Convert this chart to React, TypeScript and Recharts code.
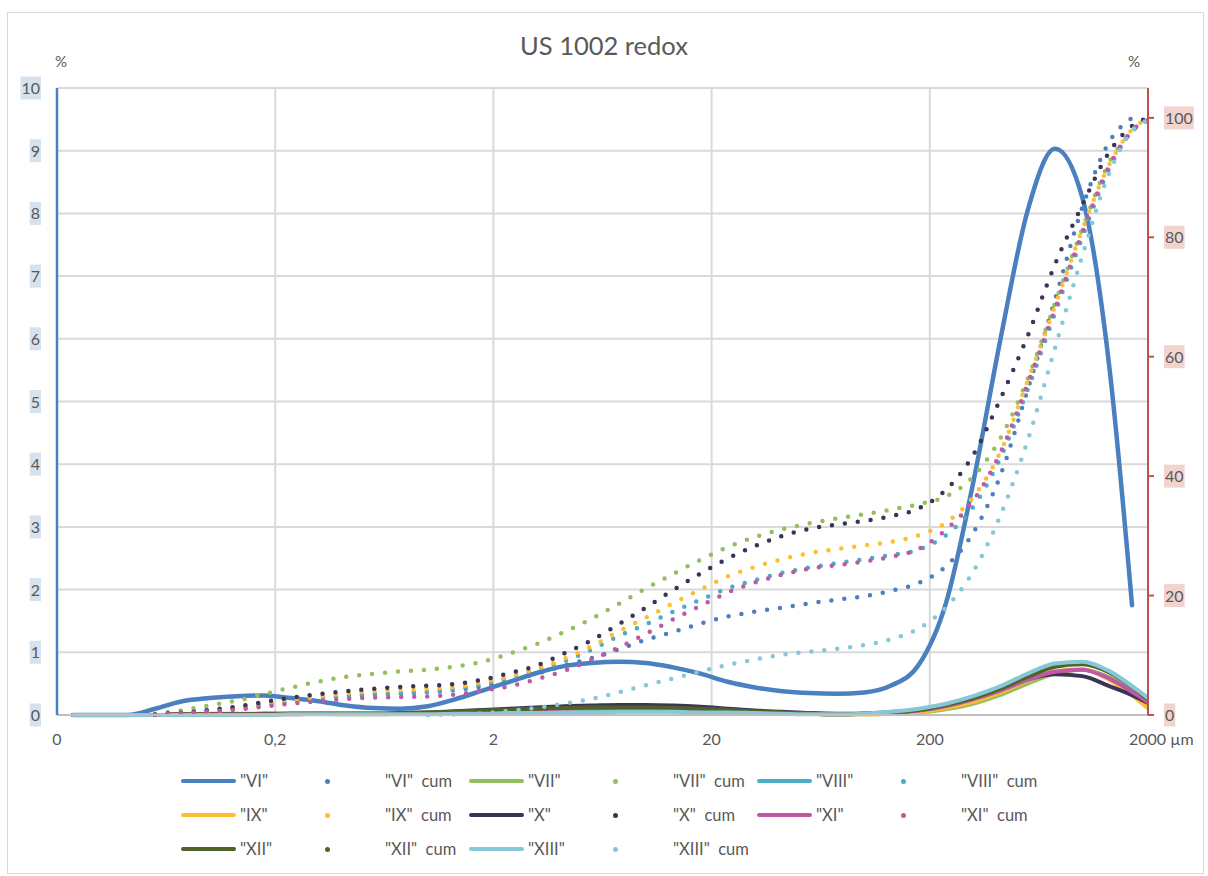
import React from "react";
import { ComposedChart, Line, XAxis, YAxis, CartesianGrid } from "recharts";

const FONT = "Lato, 'Open Sans', sans-serif";
const GREY = "#595959";

// particle size classes, µm
const sizes = [
  0.0237, 0.0316, 0.0422, 0.0562, 0.075, 0.1, 0.133, 0.178, 0.237, 0.316, 0.422, 0.562, 0.75, 1, 1.33, 1.78, 2.37,
  3.16, 4.22, 5.62, 7.5, 10, 13.3, 17.8, 23.7, 31.6, 42.2, 56.2, 75, 100, 133, 178, 237, 316, 422, 562, 750, 1000,
  1330, 1780, 2000,
];
// "VI" stops earlier
const viSizes = [
  0.0237, 0.0316, 0.0422, 0.0562, 0.075, 0.1, 0.133, 0.178, 0.237, 0.316, 0.422, 0.562, 0.75, 1, 1.33, 1.78, 2.37,
  3.16, 4.22, 5.62, 7.5, 10, 13.3, 17.8, 23.7, 31.6, 42.2, 56.2, 75, 100, 133, 178, 237, 316, 422, 562, 750, 1000,
  1330, 1690,
];

const xTicks = [0.02, 0.2, 2, 20, 200, 2000];
const xTickLabels = ["0", "0,2", "2", "20", "200", "2000 µm"];
const leftTicks = [0, 1, 2, 3, 4, 5, 6, 7, 8, 9, 10];
const rightTicks = [0, 20, 40, 60, 80, 100];

// frequency (%)
const vi = [0, 0, 0, 0.1, 0.22, 0.27, 0.3, 0.31, 0.27, 0.22, 0.15, 0.11, 0.1, 0.14, 0.25, 0.39, 0.53, 0.67, 0.78, 0.83, 0.85, 0.83, 0.76, 0.66, 0.53, 0.44, 0.38, 0.35, 0.34, 0.36, 0.47, 0.8, 1.78, 3.7, 6.0, 8.05, 9.03, 8.25, 5.55, 1.75];
const vii = [0, 0, 0, 0, 0.01, 0.02, 0.02, 0.02, 0.02, 0.02, 0.01, 0.01, 0.02, 0.03, 0.04, 0.06, 0.07, 0.09, 0.1, 0.1, 0.11, 0.1, 0.1, 0.08, 0.07, 0.05, 0.03, 0.02, 0.01, 0.01, 0.02, 0.04, 0.09, 0.18, 0.32, 0.5, 0.66, 0.72, 0.6, 0.34, 0.22];
const viii = [0, 0, 0, 0, 0.01, 0.01, 0.01, 0.01, 0.02, 0.02, 0.02, 0.02, 0.02, 0.03, 0.04, 0.06, 0.07, 0.08, 0.09, 0.1, 0.1, 0.1, 0.09, 0.08, 0.06, 0.05, 0.03, 0.02, 0.01, 0.02, 0.05, 0.09, 0.17, 0.29, 0.45, 0.64, 0.8, 0.84, 0.69, 0.4, 0.26];
const ix = [0, 0, 0, 0, 0.01, 0.01, 0.01, 0.02, 0.02, 0.02, 0.02, 0.02, 0.02, 0.03, 0.05, 0.06, 0.08, 0.09, 0.1, 0.11, 0.11, 0.11, 0.1, 0.09, 0.07, 0.05, 0.03, 0.02, 0.01, 0.01, 0.02, 0.05, 0.11, 0.21, 0.36, 0.55, 0.7, 0.73, 0.56, 0.25, 0.11];
const x10 = [0, 0, 0, 0, 0.01, 0.01, 0.01, 0.02, 0.02, 0.02, 0.02, 0.02, 0.03, 0.04, 0.06, 0.08, 0.1, 0.12, 0.14, 0.15, 0.16, 0.16, 0.15, 0.13, 0.1, 0.07, 0.05, 0.03, 0.02, 0.02, 0.04, 0.08, 0.16, 0.28, 0.42, 0.57, 0.65, 0.62, 0.46, 0.28, 0.19];
const xi = [0, 0, 0, 0, 0.01, 0.01, 0.01, 0.01, 0.01, 0.02, 0.02, 0.02, 0.02, 0.03, 0.05, 0.06, 0.08, 0.09, 0.1, 0.11, 0.11, 0.11, 0.1, 0.09, 0.07, 0.05, 0.03, 0.02, 0.01, 0.02, 0.03, 0.07, 0.14, 0.25, 0.39, 0.56, 0.69, 0.72, 0.58, 0.32, 0.2];
const xii = [0, 0, 0, 0, 0.01, 0.01, 0.01, 0.01, 0.02, 0.02, 0.02, 0.02, 0.03, 0.04, 0.05, 0.07, 0.08, 0.1, 0.11, 0.12, 0.12, 0.12, 0.11, 0.1, 0.08, 0.06, 0.04, 0.02, 0.01, 0.02, 0.04, 0.08, 0.16, 0.27, 0.42, 0.61, 0.77, 0.81, 0.68, 0.39, 0.25];
const xiii = [0, 0, 0, 0, 0, 0, 0, 0, 0.01, 0.01, 0.01, 0.01, 0.01, 0.01, 0.02, 0.02, 0.03, 0.03, 0.04, 0.04, 0.05, 0.05, 0.05, 0.04, 0.04, 0.03, 0.02, 0.01, 0.01, 0.02, 0.05, 0.1, 0.18, 0.3, 0.46, 0.66, 0.82, 0.85, 0.7, 0.4, 0.27];

// cumulative (%)
const viCum = [null, null, null, 0.1, 0.4, 0.9, 1.3, 1.9, 2.4, 2.9, 3.2, 3.4, 3.6, 3.8, 4.2, 4.8, 5.7, 6.9, 8.3, 9.5, 11.0, 12.6, 13.9, 15.3, 16.5, 17.3, 18.0, 18.7, 19.3, 19.9, 20.8, 22.1, 24.9, 30.5, 40.2, 54.5, 69.6, 85.0, 96.0, 100];
const viiCum = [null, null, null, 0.2, 0.8, 1.6, 2.4, 3.5, 4.6, 5.6, 6.4, 6.9, 7.3, 7.6, 8.1, 8.9, 10.3, 11.9, 13.9, 16.1, 18.6, 21.2, 23.6, 26.0, 28.1, 29.8, 31.1, 32.1, 32.9, 33.6, 34.4, 35.3, 36.6, 39.9, 46.4, 56.3, 69.0, 81.4, 92.6, 98.4, 99.6];
const viiiCum = [null, null, null, 0.1, 0.3, 0.7, 1.1, 1.7, 2.2, 2.8, 3.2, 3.5, 3.7, 3.9, 4.4, 5.2, 6.3, 7.6, 9.0, 10.9, 13.2, 15.2, 17.3, 19.3, 21.2, 22.6, 23.8, 24.7, 25.4, 26.1, 26.8, 27.7, 30.1, 34.8, 43.1, 54.5, 67.3, 80.0, 91.5, 98.6, 99.6];
const ixCum = [null, null, null, 0.1, 0.3, 0.6, 1.1, 1.8, 2.5, 3.1, 3.6, 4.0, 4.2, 4.4, 4.7, 5.5, 6.5, 7.8, 9.4, 11.5, 14.0, 16.3, 18.7, 21.0, 23.2, 24.8, 26.1, 27.1, 27.8, 28.4, 29.0, 30.1, 32.2, 36.5, 44.1, 56.0, 68.5, 81.3, 92.2, 98.8, 99.8];
const xCum = [null, null, null, 0.1, 0.4, 0.8, 1.4, 2.2, 2.9, 3.5, 4.0, 4.4, 4.7, 4.9, 5.2, 5.9, 7.0, 8.3, 10.3, 12.5, 15.2, 18.0, 20.9, 23.7, 26.2, 28.3, 30.0, 31.2, 31.9, 32.5, 33.3, 34.6, 37.7, 43.5, 53.0, 63.5, 75.5, 85.4, 94.3, 99.2, 100];
const xiCum = [null, null, null, 0.1, 0.3, 0.6, 0.9, 1.4, 1.9, 2.3, 2.7, 2.9, 3.0, 3.1, 3.4, 4.1, 4.8, 6.0, 7.4, 9.2, 11.3, 13.6, 16.0, 18.3, 20.5, 22.2, 23.5, 24.5, 25.1, 25.7, 26.5, 27.8, 31.0, 35.9, 44.0, 55.5, 68.0, 80.8, 92.0, 98.6, 99.6];
const xiiCum: (number | null)[] = [];
const xiiiCum = [null, null, null, null, null, null, null, null, null, null, null, null, null, 0, 0.1, 0.3, 0.7, 1.2, 1.9, 2.7, 3.8, 5.0, 6.1, 7.3, 8.4, 9.3, 10.1, 10.6, 11.1, 11.7, 12.7, 14.5, 18.0, 24.0, 33.5, 46.0, 61.5, 76.9, 90.8, 98.7, 99.6];

type Series = { name: string; color: string; xs: number[]; freq: (number | null)[]; cum: (number | null)[] };

const series: Series[] = [
  { name: "\"VI\"", color: "#4a7fc0", xs: viSizes, freq: vi, cum: viCum },
  { name: "\"VII\"", color: "#93c05c", xs: sizes, freq: vii, cum: viiCum },
  { name: "\"VIII\"", color: "#4bacc6", xs: sizes, freq: viii, cum: viiiCum },
  { name: "\"IX\"", color: "#fdbf2f", xs: sizes, freq: ix, cum: ixCum },
  { name: "\"X\"", color: "#3b3458", xs: sizes, freq: x10, cum: xCum },
  { name: "\"XI\"", color: "#c058a6", xs: sizes, freq: xi, cum: xiCum },
  { name: "\"XII\"", color: "#4f6228", xs: sizes, freq: xii, cum: xiiCum },
  { name: "\"XIII\"", color: "#86c8d8", xs: sizes, freq: xiii, cum: xiiiCum },
];

function toPoints(xs: number[], ys: (number | null)[]) {
  return xs.map((x, i) => ({ x, y: ys[i] })).filter((p) => p.y !== null && p.y !== undefined);
}

function LeftTick({ y, payload }: any) {
  const label = String(payload.value);
  const w = label.length * 9.3 + 2;
  return (
    <g>
      <rect x={41 - w} y={y - 11.5} width={w} height={23} fill="#d7e2ef" />
      <text x={40} y={y + 6} textAnchor="end" fontSize={16} fill={GREY} fontFamily={FONT}>{label}</text>
    </g>
  );
}

function RightTick({ y, payload }: any) {
  const label = String(payload.value);
  const w = label.length * 9.3 + 2;
  return (
    <g>
      <rect x={1164} y={y - 11.5} width={w} height={23} fill="#f2d4cf" />
      <text x={1165} y={y + 6} textAnchor="start" fontSize={16} fill={GREY} fontFamily={FONT}>{label}</text>
    </g>
  );
}

function BottomTick({ x, payload }: any) {
  const i = xTicks.indexOf(payload.value);
  const label = xTickLabels[i] ?? "";
  const last = i === xTicks.length - 1;
  return (
    <text x={last ? x - 19 : x} y={745} textAnchor={last ? "start" : "middle"} fontSize={16} fill={GREY} fontFamily={FONT}>
      {label}
    </text>
  );
}

function LegendBlock() {
  const rows = [series.slice(0, 3), series.slice(3, 6), series.slice(6, 8)];
  const rowY = [781, 815, 849];
  const text: React.CSSProperties = { position: "absolute", fontSize: 16.5, color: GREY, fontFamily: FONT, whiteSpace: "pre", lineHeight: "20px" };
  return (
    <>
      {rows.map((row, r) =>
        row.map((s, c) => {
          const x0 = 181 + c * 288;
          const y = rowY[r];
          return (
            <React.Fragment key={s.name}>
              <div style={{ position: "absolute", left: x0, top: y - 2.25, width: 55, height: 4.5, borderRadius: 2.25, background: s.color }} />
              <div style={{ ...text, left: x0 + 59, top: y - 10 }}>{s.name}</div>
              <div style={{ position: "absolute", left: x0 + 144, top: y - 2.5, width: 5, height: 5, borderRadius: 2.5, background: s.color }} />
              <div style={{ ...text, left: x0 + 204, top: y - 10 }}>{s.name + "  cum"}</div>
            </React.Fragment>
          );
        })
      )}
    </>
  );
}

export default function App() {
  return (
    <div style={{ position: "absolute", left: 0, top: 0, width: 1208, height: 876, background: "#fff", overflow: "hidden" }}>
      <div style={{ position: "absolute", left: 7, top: 12, width: 1195, height: 860, border: "1px solid #d9d9d9" }} />
      <div style={{ position: "absolute", left: 0, top: 0 }}>
        <ComposedChart width={1208} height={876} margin={{ top: 88, right: 0, bottom: 121, left: 0 }}>
          <CartesianGrid yAxisId="freq" stroke="#d9d9d9" strokeWidth={2} />
          <XAxis
            dataKey="x"
            type="number"
            scale="log"
            domain={[0.02, 2000]}
            ticks={xTicks}
            allowDataOverflow
            height={40}
            stroke="#bfbfbf"
            strokeWidth={2}
            tickLine={false}
            tick={BottomTick}
          />
          <YAxis
            yAxisId="freq"
            domain={[0, 10]}
            ticks={leftTicks}
            width={57}
            axisLine={{ stroke: "#4a7fc0", strokeWidth: 2.5 }}
            tickLine={false}
            tick={LeftTick}
          />
          <YAxis
            yAxisId="cum"
            orientation="right"
            domain={[0, 105]}
            ticks={rightTicks}
            width={60}
            axisLine={{ stroke: "#c0504d", strokeWidth: 2 }}
            tickLine={{ stroke: "#c0504d", strokeWidth: 2 }}
            tickSize={6}
            tick={RightTick}
          />
          {series.map((s) => (
            <Line
              key={s.name}
              data={toPoints(s.xs, s.freq)}
              dataKey="y"
              yAxisId="freq"
              type="monotone"
              stroke={s.color}
              strokeWidth={s.name === "\"VI\"" ? 4.5 : 4}
              strokeLinecap="round"
              dot={false}
              activeDot={false}
              isAnimationActive={false}
            />
          ))}
          {series.map((s) => (
            <Line
              key={s.name + " cum"}
              data={toPoints(s.xs, s.cum)}
              dataKey="y"
              yAxisId="cum"
              type="monotone"
              stroke={s.color}
              strokeWidth={4.5}
              strokeDasharray="0 13"
              strokeLinecap="round"
              dot={false}
              activeDot={false}
              isAnimationActive={false}
            />
          ))}
        </ComposedChart>
      </div>
      <div style={{ position: "absolute", left: 0, width: 1208, top: 30, textAlign: "center", fontSize: 25.5, color: GREY, fontFamily: FONT }}>
        US 1002 redox
      </div>
      <div style={{ position: "absolute", left: 55, top: 52, fontSize: 15, color: GREY, fontFamily: FONT }}>%</div>
      <div style={{ position: "absolute", left: 1128, top: 52, fontSize: 15, color: GREY, fontFamily: FONT }}>%</div>
      <LegendBlock />
    </div>
  );
}
